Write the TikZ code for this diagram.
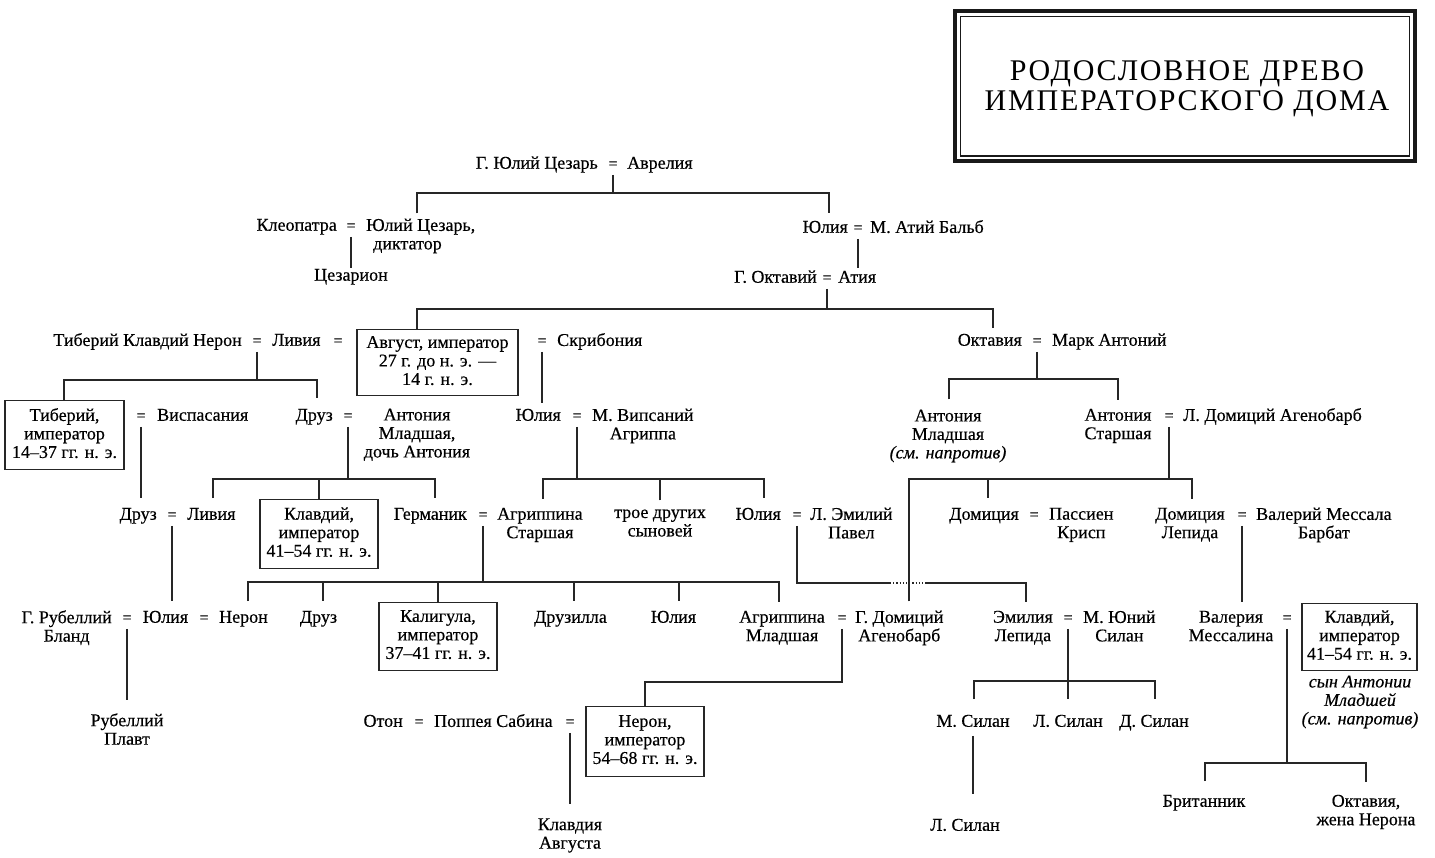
\documentclass[tikz,border=0pt]{standalone}
\usepackage{fontspec}
\setmainfont[FakeBold=0.4]{Liberation Serif}
\newfontfamily\titlefont[LetterSpace=6]{Liberation Serif}
\newcommand\hstr{\rule{0pt}{12.5pt}}
\newcommand\dstr{\rule[-4pt]{0pt}{4pt}}
\begin{document}
\begin{tikzpicture}[x=1pt,y=-1pt,
  pn/.style={inner xsep=0pt, inner ysep=0pt, align=center, font=\fontsize{18}{18.5}\selectfont,
    execute at begin node=\hstr, execute at end node=\dstr, yshift=-1.5pt},
  eqs/.style={pn, inner ysep=2pt, font=\fontsize{16}{18.5}\selectfont},
  bx/.style={pn, draw=black!85, line width=1.2pt, yshift=0pt},
  ln/.style={draw=black!85, line width=1.2pt},
  ttl/.style={align=center, font=\titlefont\fontsize{30}{30}\selectfont, inner sep=0pt}]
\useasboundingbox[fill=white] (0,0) rectangle (1435,858);
% title
\draw[black!90, line width=4pt] (955,11.5) rectangle (1415,161);
\draw[black!90, line width=1.2pt] (960.5,16.5) rectangle (1409.5,156);
\node[ttl] (title) at (1187,88.5) {РОДОСЛОВНОЕ ДРЕВО\\ИМПЕРАТОРСКОГО ДОМА};
% row 0
\node[pn, anchor=east] (gjc) at (598,163) {Г. Юлий Цезарь};
\node[eqs] (e0) at (613,163) {=};
\node[pn, anchor=west] (avr) at (627,163) {Аврелия};
% row 1
\node[pn, anchor=east] (kleo) at (337,225) {Клеопатра};
\node[eqs] (e1) at (351,225) {=};
\node[pn, anchor=west, align=left, inner ysep=5pt] (ljc) at (366,234.5) {Юлий Цезарь,\\\hspace*{7pt}диктатор};
\node[pn, anchor=east, inner ysep=7pt] (jul1) at (848,227) {Юлия};
\node[eqs] (e1b) at (858,227) {=};
\node[pn, anchor=west] (atiy) at (870,227) {М. Атий Бальб};
\node[pn] (cez) at (351,275) {Цезарион};
\node[pn, anchor=east] (goct) at (817,277) {Г. Октавий};
\node[eqs] (e2) at (827,277) {=};
\node[pn, anchor=west, inner ysep=2pt] (atia) at (838,277) {Атия};
% row 2
\node[pn, anchor=east] (tkn) at (242,340) {Тиберий Клавдий Нерон};
\node[eqs] (e3) at (257,340) {=};
\node[pn, anchor=west] (liv1) at (272,340) {Ливия};
\node[eqs] (e3b) at (338,340) {=};
\node[bx, minimum width=161pt, minimum height=66pt] (aug) at (437.5,361) {Август, император\\27 г. до н. э. —\\14 г. н. э.};
\node[eqs] (e3c) at (542,340) {=};
\node[pn, anchor=west] (skr) at (557,340) {Скрибония};
\node[pn, anchor=east, inner ysep=5pt] (octv) at (1022,340) {Октавия};
\node[eqs] (e3d) at (1037,340) {=};
\node[pn, anchor=west] (mant) at (1052,340) {Марк Антоний};
% row 3
\node[bx, minimum width=119pt, minimum height=69pt] (tib) at (64.5,433.5) {Тиберий,\\император\\14–37 гг. н. э.};
\node[eqs] (e4) at (141,415) {=};
\node[pn, anchor=west] (visp) at (157,415) {Виспасания};
\node[pn, anchor=east, inner ysep=10pt] (druz1) at (333,415) {Друз};
\node[eqs] (e5) at (348,415) {=};
\node[pn] (antm1) at (417,433.5) {Антония\\Младшая,\\дочь Антония};
\node[pn, anchor=east, inner ysep=5pt] (jul2) at (561,415) {Юлия};
\node[eqs] (e6) at (577,415) {=};
\node[pn, anchor=west] (agr1) at (592,424.5) {М. Випсаний\\Агриппа};
\node[pn, inner ysep=10pt] (antm2) at (948,434.5) {Антония\\Младшая\\\textit{(см. напротив)}};
\node[pn, inner ysep=9pt] (ants) at (1118,424.5) {Антония\\Старшая};
\node[eqs] (e7) at (1169,415) {=};
\node[pn, anchor=west] (ldom) at (1183,415) {Л. Домиций Агенобарб};
% row 4
\node[pn, anchor=east, inner ysep=9pt] (druz2) at (157,514) {Друз};
\node[eqs] (e8) at (172,514) {=};
\node[pn, anchor=west, inner ysep=9pt] (liv2) at (187,514) {Ливия};
\node[bx, minimum width=118pt, minimum height=69pt] (kla1) at (319,532.5) {Клавдий,\\император\\41–54 гг. н. э.};
\node[pn, anchor=east, inner ysep=9pt] (germ) at (467,514) {Германик};
\node[eqs] (e9) at (483,514) {=};
\node[pn, anchor=west, inner ysep=9pt] (agrs) at (497,523.5) {Агриппина\\Старшая};
\node[pn, inner ysep=9pt] (troe) at (660,523.5) {трое других\\сыновей};
\node[pn, anchor=east, inner ysep=9pt] (jul3) at (781,514) {Юлия};
\node[eqs] (e10) at (797,514) {=};
\node[pn, anchor=west] (paul) at (810,523.5) {Л. Эмилий\\Павел};
\node[pn, anchor=east, inner ysep=9pt] (dom1) at (1019,514) {Домиция};
\node[eqs] (e11) at (1034,514) {=};
\node[pn, anchor=west] (cris) at (1049,523.5) {Пассиен\\Крисп};
\node[pn, inner ysep=9pt] (doml) at (1190,523.5) {Домиция\\Лепида};
\node[eqs] (e12) at (1242,514) {=};
\node[pn, anchor=west] (valb) at (1256,523.5) {Валерий Мессала\\Барбат};
% row 5
\node[pn, anchor=east] (rub) at (112,626.5) {Г. Рубеллий\\Бланд};
\node[eqs] (e13) at (127,617) {=};
\node[pn, inner ysep=9pt] (jul4) at (165.5,617) {Юлия};
\node[eqs] (e14) at (204,617) {=};
\node[pn, anchor=west, inner ysep=9pt] (ner1) at (219,617) {Нерон};
\node[pn, inner ysep=9pt] (druz3) at (318.5,617) {Друз};
\node[bx, minimum width=118pt, minimum height=68pt] (cal) at (438,635) {Калигула,\\император\\37–41 гг. н. э.};
\node[pn, inner ysep=9pt] (druzil) at (570.5,617) {Друзилла};
\node[pn, inner ysep=9pt] (jul5) at (673.5,617) {Юлия};
\node[pn, anchor=east, inner ysep=9pt] (agrm) at (825,626.5) {Агриппина\\Младшая};
\node[eqs] (e15) at (842,617) {=};
\node[pn, anchor=west, inner ysep=9pt] (gdom) at (855,626.5) {Г. Домиций\\Агенобарб};
\node[pn, anchor=east, inner ysep=9pt] (emil) at (1053,626.5) {Эмилия\\Лепида};
\node[eqs] (e16) at (1068,617) {=};
\node[pn, anchor=west] (mjun) at (1083,626.5) {М. Юний\\Силан};
\node[pn, inner ysep=9pt] (valm) at (1231,626.5) {Валерия\\Мессалина};
\node[eqs] (e17) at (1287,617) {=};
\node[bx, minimum width=115pt, minimum height=67pt] (kla2) at (1359.5,635.5) {Клавдий,\\император\\41–54 гг. н. э.};
\node[pn, font=\fontsize{18}{18.5}\selectfont\itshape] (note) at (1360,700.5) {сын Антонии\\Младшей\\(см. напротив)};
% row 6
\node[pn, inner ysep=13pt] (rubp) at (127,729.5) {Рубеллий\\Плавт};
\node[pn, anchor=east] (oton) at (403,721) {Отон};
\node[eqs] (e18) at (419,721) {=};
\node[pn, anchor=west] (popp) at (434,721) {Поппея Сабина};
\node[eqs] (e19) at (570,721) {=};
\node[bx, minimum width=118pt, minimum height=70pt] (ner) at (645,740) {Нерон,\\император\\54–68 гг. н. э.};
\node[pn, inner ysep=15pt] (msil) at (973,721) {М. Силан};
\node[pn, inner ysep=15pt] (lsil) at (1068,721) {Л. Силан};
\node[pn, inner ysep=15pt] (dsil) at (1154,721) {Д. Силан};
% row 7
\node[pn, inner ysep=13pt] (brit) at (1204,801) {Британник};
\node[pn, inner ysep=13pt] (octn) at (1366,810.5) {Октавия,\\жена Нерона};
\node[pn, inner ysep=14pt] (klaug) at (570,834) {Клавдия\\Августа};
\node[pn, inner ysep=14pt] (lsil2) at (965,825) {Л. Силан};
% ---------- connectors
\coordinate (b0l) at (417,193); \coordinate (b0r) at (829,193);
\draw[ln] (e0.south) -- (e0.south |- b0l);
\draw[ln] (b0l |- ljc.north) -- (b0l) -- (b0r) -- (b0r |- jul1.north);
\draw[ln] (e1.south) -- (e1.south |- cez.north);
\draw[ln] (e1b.south) -- (e1b.south |- atia.north);
\coordinate (b1l) at (417,309); \coordinate (b1r) at (993,309);
\draw[ln] (e2.south) -- (e2.south |- b1l);
\draw[ln] (b1l |- aug.north) -- (b1l) -- (b1r) -- (b1r |- octv.north);
\coordinate (b2l) at (64,380); \coordinate (b2r) at (317,380);
\draw[ln] (e3.south) -- (e3.south |- b2l);
\draw[ln] (b2l |- tib.north) -- (b2l) -- (b2r) -- (b2r |- druz1.north);
\draw[ln] (e3c.south) -- (e3c.south |- jul2.north);
\coordinate (b3l) at (949,379); \coordinate (b3r) at (1118,379);
\draw[ln] (e3d.south) -- (e3d.south |- b3l);
\draw[ln] (b3l |- antm2.north) -- (b3l) -- (b3r) -- (b3r |- ants.north);
\draw[ln] (e4.south) -- (e4.south |- druz2.north);
\coordinate (b4l) at (213,479); \coordinate (b4r) at (435,479);
\draw[ln] (e5.south) -- (e5.south |- b4l);
\draw[ln] (b4l |- liv2.north) -- (b4l) -- (b4r) -- (b4r |- germ.north);
\draw[ln] (kla1.north) -- (kla1.north |- b4l);
\coordinate (b5l) at (543,479); \coordinate (b5r) at (764,479);
\draw[ln] (e6.south) -- (e6.south |- b5l);
\draw[ln] (b5l |- agrs.north) -- (b5l) -- (b5r) -- (b5r |- jul3.north);
\draw[ln] (troe.north) -- (troe.north |- b5l);
\coordinate (b6l) at (909,479); \coordinate (b6m) at (988,479); \coordinate (b6r) at (1192,479);
\draw[ln] (e7.south) -- (e7.south |- b6l);
\draw[ln] (b6l |- gdom.north) -- (b6l) -- (b6r) -- (b6r |- doml.north);
\draw[ln] (b6m) -- (b6m |- dom1.north);
\draw[ln] (e8.south) -- (e8.south |- jul4.north);
\coordinate (b7l) at (248,582); \coordinate (b7a) at (323,582); \coordinate (b7b) at (574,582);
\coordinate (b7c) at (679,582); \coordinate (b7r) at (779,582);
\draw[ln] (e9.south) -- (e9.south |- b7l);
\draw[ln] (b7l |- ner1.north) -- (b7l) -- (b7r) -- (b7r |- agrm.north);
\draw[ln] (b7a) -- (b7a |- druz3.north);
\draw[ln] (cal.north) -- (cal.north |- b7l);
\draw[ln] (b7b) -- (b7b |- druzil.north);
\draw[ln] (b7c) -- (b7c |- jul5.north);
\coordinate (d1) at (890,583); \coordinate (d2) at (925,583); \coordinate (b8r) at (1026,583);
\draw[ln] (e10.south) |- (d1);
\draw[ln, dotted] (d1) -- (d2);
\draw[ln] (d2) -- (b8r) -- (b8r |- emil.north);
\draw[ln] (e12.south) -- (e12.south |- valm.north);
\draw[ln] (e13.south) -- (e13.south |- rubp.north);
\coordinate (b9) at (645,682);
\draw[ln] (e15.south) |- (b9) -- (ner.north);
\coordinate (b10l) at (974,681); \coordinate (b10r) at (1155,681);
\draw[ln] (e16.south) -- (e16.south |- lsil.north);
\draw[ln] (b10l |- msil.north) -- (b10l) -- (b10r) -- (b10r |- dsil.north);
\coordinate (b11l) at (1205,763); \coordinate (b11r) at (1366,763);
\draw[ln] (e17.south) -- (e17.south |- b11l);
\draw[ln] (b11l |- brit.north) -- (b11l) -- (b11r) -- (b11r |- octn.north);
\draw[ln] (e19.south) -- (e19.south |- klaug.north);
\draw[ln] ([yshift=10pt]msil.south) -- ([yshift=10pt]msil.south |- lsil2.north);
\end{tikzpicture}
\end{document}
